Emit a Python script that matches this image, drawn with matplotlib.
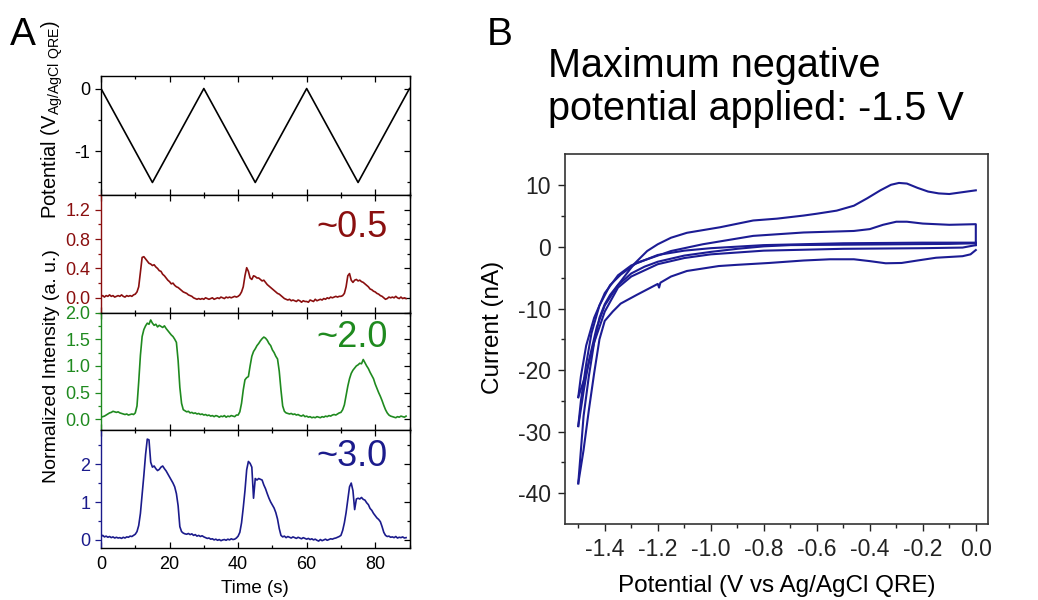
import numpy as np
import matplotlib
matplotlib.use("Agg")
import matplotlib.pyplot as plt
from matplotlib.ticker import MultipleLocator

plt.rcParams['font.family'] = ['Liberation Sans', 'DejaVu Sans']
plt.rcParams['mathtext.default'] = 'regular'
plt.rcParams['axes.unicode_minus'] = False

# ---------------- data: panel A ----------------
time_step = 0.5
pot_times = [0, 15, 30, 45, 60, 75, 90]
pot_values = [0, -1.5, 0, -1.5, 0, -1.5, 0]

int_red = [
    0.02, 0.03, 0.01, 0.03, 0.02, 0.04, 0.02, 0.03, 0.01, 0.02,
    0.03, 0.02, 0.04, 0.02, 0.01, 0.03, 0.02, 0.03, 0.02, 0.04,
    0.05, 0.08, 0.15, 0.35, 0.55, 0.56, 0.53, 0.50, 0.47, 0.46,
    0.44, 0.45, 0.42, 0.40, 0.37, 0.36, 0.32, 0.30, 0.27, 0.24,
    0.22, 0.19, 0.20, 0.17, 0.15, 0.14, 0.12, 0.10, 0.08, 0.07,
    0.06, 0.04, 0.03, 0.02, 0.00, -0.01, -0.02, -0.01, -0.02, -0.01,
    -0.02, 0.00, -0.01, -0.02, -0.01, 0.00, -0.02, -0.01, 0.00, -0.01,
    0.01, 0.00, -0.01, 0.01, 0.00, 0.01, 0.00, 0.01, 0.02, 0.01,
    0.02, 0.04, 0.08, 0.15, 0.30, 0.41, 0.36, 0.27, 0.25, 0.30,
    0.29, 0.27, 0.27, 0.25, 0.23, 0.24, 0.21, 0.18, 0.16, 0.14,
    0.12, 0.10, 0.08, 0.06, 0.05, 0.03, 0.01, -0.01, -0.02, -0.03,
    -0.02, -0.04, -0.03, -0.04, -0.05, -0.03, -0.04, -0.06, -0.04, -0.05,
    -0.05, -0.06, -0.03, -0.04, -0.05, -0.02, -0.04, -0.03, -0.02, -0.03,
    -0.01, -0.02, 0.00, -0.01, 0.01, 0.00, 0.01, 0.02, 0.01, 0.02,
    0.02, 0.03, 0.06, 0.15, 0.30, 0.33, 0.24, 0.21, 0.24, 0.25,
    0.23, 0.24, 0.22, 0.21, 0.19, 0.17, 0.15, 0.12, 0.11, 0.09,
    0.08, 0.06, 0.05, 0.03, 0.02, 0.00, -0.02, -0.01, 0.01, 0.00,
    0.01, 0.00, 0.02, 0.00, -0.01, 0.01, -0.01, 0.00, -0.01,
]

int_green = [
    0.04, 0.05, 0.06, 0.08, 0.10, 0.12, 0.13, 0.15, 0.14, 0.13,
    0.14, 0.12, 0.11, 0.10, 0.09, 0.10, 0.08, 0.09, 0.10, 0.09,
    0.12, 0.25, 0.70, 1.20, 1.55, 1.68, 1.75, 1.80, 1.78, 1.86,
    1.80, 1.76, 1.78, 1.73, 1.76, 1.74, 1.72, 1.75, 1.70, 1.66,
    1.62, 1.58, 1.55, 1.50, 1.44, 1.10, 0.60, 0.30, 0.18, 0.16,
    0.14, 0.15, 0.12, 0.13, 0.11, 0.12, 0.10, 0.11, 0.09, 0.10,
    0.08, 0.09, 0.07, 0.08, 0.06, 0.07, 0.05, 0.07, 0.06, 0.04,
    0.06, 0.05, 0.07, 0.04, 0.06, 0.05, 0.07, 0.06, 0.05, 0.08,
    0.08, 0.14, 0.30, 0.55, 0.74, 0.78, 0.80, 1.00, 1.18, 1.27,
    1.32, 1.38, 1.42, 1.47, 1.51, 1.54, 1.52, 1.48, 1.42, 1.38,
    1.30, 1.25, 1.18, 1.13, 0.90, 0.55, 0.25, 0.15, 0.12, 0.11,
    0.10, 0.11, 0.09, 0.10, 0.08, 0.09, 0.07, 0.06, 0.08, 0.05,
    0.06, 0.04, 0.05, 0.03, 0.04, 0.03, 0.05, 0.04, 0.03, 0.05,
    0.04, 0.06, 0.05, 0.07, 0.06, 0.08, 0.09, 0.08, 0.10, 0.12,
    0.13, 0.18, 0.27, 0.45, 0.62, 0.76, 0.86, 0.92, 0.96, 1.00,
    1.02, 1.05, 1.04, 1.12, 1.06, 1.00, 0.95, 0.88, 0.82, 0.76,
    0.66, 0.58, 0.50, 0.43, 0.35, 0.26, 0.18, 0.12, 0.08, 0.06,
    0.05, 0.04, 0.03, 0.05, 0.04, 0.06, 0.05, 0.04, 0.06,
]

int_blue = [
    0.09, 0.12, 0.08, 0.10, 0.07, 0.09, 0.06, 0.08, 0.05, 0.07,
    0.05, 0.06, 0.04, 0.07, 0.05, 0.08, 0.07, 0.10, 0.09, 0.12,
    0.15, 0.22, 0.38, 0.70, 1.20, 1.70, 2.25, 2.66, 2.64, 2.05,
    1.92, 1.95, 1.88, 1.83, 1.86, 1.92, 1.95, 1.88, 1.82, 1.74,
    1.66, 1.58, 1.50, 1.40, 1.22, 0.90, 0.35, 0.22, 0.18, 0.16,
    0.15, 0.17, 0.14, 0.16, 0.12, 0.14, 0.10, 0.12, 0.09, 0.11,
    0.08, 0.06, 0.04, 0.05, 0.02, 0.03, 0.00, 0.02, -0.01, 0.01,
    -0.02, 0.00, 0.01, -0.01, 0.02, 0.00, 0.03, 0.01, 0.02, 0.05,
    0.10, 0.20, 0.45, 0.85, 1.30, 1.85, 2.07, 2.02, 1.92, 1.10,
    1.62, 1.58, 1.62, 1.60, 1.58, 1.45, 1.35, 1.22, 1.10, 1.00,
    0.92, 0.84, 0.72, 0.55, 0.30, 0.12, 0.08, 0.10, 0.06, 0.09,
    0.07, 0.05, 0.08, 0.06, 0.04, 0.07, 0.05, 0.03, 0.06, 0.04,
    0.02, 0.04, 0.01, 0.03, 0.00, 0.02, -0.01, -0.03, 0.01, -0.02,
    0.00, 0.02, -0.01, 0.01, 0.03, 0.02, 0.04, 0.05, 0.07, 0.09,
    0.12, 0.25, 0.45, 0.72, 1.05, 1.40, 1.50, 1.30, 0.80, 1.08,
    1.10, 1.08, 1.12, 1.07, 1.05, 0.98, 0.93, 0.83, 0.78, 0.70,
    0.64, 0.58, 0.54, 0.48, 0.35, 0.20, 0.12, 0.09, 0.10, 0.07,
    0.08, 0.06, 0.09, 0.05, 0.07, 0.06, 0.08, 0.05, 0.06,
]

panel_labels = ["~0.5", "~2.0", "~3.0"]

# ---------------- data: panel B (CV sweeps) ----------------
f1_v = [0.0, -0.02, -0.05, -0.15, -0.22, -0.28, -0.34, -0.40, -0.46, -0.55, -0.65, -0.78, -0.90,
        -0.97, -1.09, -1.15, -1.19, -1.195, -1.20, -1.24, -1.28, -1.34, -1.37, -1.40, -1.42,
        -1.44, -1.46, -1.48, -1.50]
f1_i = [-0.5, -1.2, -1.5, -1.75, -2.2, -2.6, -2.65, -2.3, -2.0, -2.0, -2.2, -2.6, -2.9,
        -3.1, -3.9, -4.8, -5.8, -6.6, -6.0, -6.9, -7.8, -9.2, -10.5, -12.0, -15.0,
        -20.5, -26.5, -33.0, -38.4]

r1_v = [-1.50, -1.49, -1.48, -1.46, -1.44, -1.42, -1.40, -1.38, -1.34, -1.29, -1.24, -1.20, -1.15,
        -1.09, -0.965, -0.84, -0.75, -0.65, -0.60, -0.525, -0.46, -0.41, -0.36, -0.32, -0.29,
        -0.26, -0.22, -0.18, -0.14, -0.10, -0.05, 0.0]
r1_i = [-38.4, -33.0, -27.5, -21.0, -15.5, -11.5, -9.3, -7.8, -5.6, -2.8, -0.66, 0.44, 1.5,
        2.3, 3.2, 4.3, 4.6, 5.1, 5.4, 5.9, 6.7, 7.9, 9.2, 10.1, 10.4,
        10.3, 9.6, 9.0, 8.7, 8.6, 8.9, 9.2]

f2_v = [0.0, -0.1, -0.4, -0.7, -0.8, -0.9, -1.0, -1.1, -1.2, -1.25, -1.3, -1.35, -1.4, -1.43,
        -1.46, -1.48, -1.5]
f2_i = [0.6, 0.5, 0.4, 0.3, 0.1, -0.3, -0.8, -1.4, -2.4, -3.2, -4.3, -6.2, -9.5, -13.0,
        -18.5, -23.5, -29.1]

r2_v = [-1.5, -1.49, -1.47, -1.45, -1.42, -1.38, -1.34, -1.28, -1.15, -1.03, -0.84, -0.65,
        -0.46, -0.40, -0.35, -0.30, -0.26, -0.2, -0.1, 0.0, 0.0]
r2_i = [-29.1, -25.0, -19.0, -14.0, -9.5, -6.2, -4.5, -2.6, -0.66, 0.44, 1.8, 2.35,
        2.6, 2.9, 3.6, 4.1, 4.1, 3.8, 3.6, 3.7, 0.3]

f3_v = [0.0, -0.05, -0.2, -0.5, -0.8, -1.0, -1.1, -1.2, -1.3, -1.35, -1.4, -1.44, -1.47, -1.5]
f3_i = [0.3, -0.1, -0.2, -0.3, -0.6, -1.2, -1.8, -2.8, -4.8, -6.6, -10.5, -15.5, -20.5, -24.4]

r3_v = [-1.5, -1.49, -1.47, -1.44, -1.4, -1.35, -1.3, -1.2, -1.1, -1.0, -0.8, -0.5, -0.2, 0.0]
r3_i = [-24.4, -21.0, -16.0, -11.5, -7.5, -4.6, -3.0, -1.3, -0.6, -0.2, 0.3, 0.6, 0.7, 0.7]

# ---------------- styling ----------------
W, H = 1038, 600
fig = plt.figure(figsize=(W / 100, H / 100), dpi=100)

col_red = '#8a0f0f'
col_green = '#1f8a1f'
col_blue = '#1b1b8c'
col_cv = '#1c1c94'

def fr(x0, y0, x1, y1):
    return [x0 / W, 1 - y1 / H, (x1 - x0) / W, (y1 - y0) / H]

ax_pot = fig.add_axes(fr(101, 76, 409.5, 195))
ax_r = fig.add_axes(fr(101, 195, 409.5, 312.5))
ax_g = fig.add_axes(fr(101, 312.5, 409.5, 430))
ax_b = fig.add_axes(fr(101, 430, 409.5, 547.5))

t = np.arange(len(int_red)) * time_step

ax_pot.plot(pot_times, pot_values, color='black', lw=1.2)
ax_pot.set_ylim(-1.7, 0.2)
ax_pot.yaxis.set_major_locator(MultipleLocator(1))
ax_pot.yaxis.set_minor_locator(MultipleLocator(0.5))

traces = [(ax_r, int_red, col_red, (-0.2, 1.4), 0.4, 0.2, 0.96, '%.1f'),
          (ax_g, int_green, col_green, (-0.2, 2.0), 0.5, 0.25, 1.54, '%.1f'),
          (ax_b, int_blue, col_blue, (-0.2, 2.9), 1, 0.5, 2.2, '%d')]

for (ax, vals, col, yl, maj, mnr, ly, fmt), lab in zip(traces, panel_labels):
    ax.plot(t, vals, color=col, lw=1.2)
    ax.set_ylim(*yl)
    ax.yaxis.set_major_locator(MultipleLocator(maj))
    ax.yaxis.set_minor_locator(MultipleLocator(mnr))
    ax.yaxis.set_major_formatter(matplotlib.ticker.FormatStrFormatter(fmt))
    ax.tick_params(axis='y', which='both', colors=col)
    ax.spines['left'].set_color(col)
    ax.text(83.6, ly, lab, color=col, fontsize=26, ha='right', va='center')

for ax in [ax_pot, ax_r, ax_g, ax_b]:
    ax.set_xlim(0, 90)
    ax.xaxis.set_major_locator(MultipleLocator(20))
    ax.xaxis.set_minor_locator(MultipleLocator(10))
    ax.tick_params(axis='x', which='both', direction='in', top=True, bottom=True)
    ax.tick_params(axis='y', which='both', direction='out', left=True, right=False)
    ax.tick_params(which='major', length=4, width=0.9, labelsize=13)
    ax.tick_params(which='minor', length=2.5, width=0.9)
    ax.tick_params(axis='x', pad=6)
    ax2 = ax.secondary_yaxis('right')
    ax2.yaxis.set_major_locator(ax.yaxis.get_major_locator())
    ax2.yaxis.set_minor_locator(ax.yaxis.get_minor_locator())
    ax2.tick_params(which='both', direction='in', labelright=False)
    ax2.tick_params(which='major', length=4, width=0.9)
    ax2.tick_params(which='minor', length=2.5, width=0.9)
    for s in ax.spines.values():
        s.set_linewidth(1.0)
    if ax is not ax_b:
        ax.tick_params(axis='x', labelbottom=False)

ax_pot.tick_params(axis='y', colors='black')
ax_b.set_xlabel('Time (s)', fontsize=13.5, labelpad=5)
ax_b.set_xticks([0, 20, 40, 60, 80])

fig.text(52 / W, 1 - 120 / H, 'Potential (V$_{Ag/AgCl\\ QRE}$)', rotation=90,
         ha='center', va='center', fontsize=14.5)
fig.text(52 / W, 1 - 366 / H, 'Normalized Intensity (a. u.)', rotation=90,
         ha='center', va='center', fontsize=14)

fig.text(10 / W, 1 - 45 / H, 'A', fontsize=28, ha='left', va='baseline')
fig.text(487 / W, 1 - 45 / H, 'B', fontsize=28, ha='left', va='baseline')

# ---------------- panel B ----------------
axB = fig.add_axes(fr(565, 154, 988, 524))
for v, i in [(f1_v, f1_i), (r1_v, r1_i), (f2_v, f2_i), (r2_v, r2_i), (f3_v, f3_i), (r3_v, r3_i)]:
    axB.plot(v, i, color=col_cv, lw=1.5)
axB.set_xlim(-1.55, 0.046)
axB.set_ylim(-45, 15.1)
axB.xaxis.set_major_formatter(matplotlib.ticker.FormatStrFormatter('%.1f'))
axB.set_xticks([-1.4, -1.2, -1.0, -0.8, -0.6, -0.4, -0.2, 0.0])
axB.set_xticks([-1.5, -1.3, -1.1, -0.9, -0.7, -0.5, -0.3, -0.1], minor=True)
axB.set_yticks([10, 0, -10, -20, -30, -40])
axB.set_yticks([5, -5, -15, -25, -35], minor=True)
axB.tick_params(which='both', direction='out', labelsize=16.5, colors='#222222')
axB.tick_params(which='major', length=5, width=1.0, pad=5)
axB.tick_params(which='minor', length=3, width=1.0)
for s in axB.spines.values():
    s.set_color('#333333')
    s.set_linewidth(1.2)
axB.set_ylabel('Current (nA)', fontsize=17.5, labelpad=6)
axB.yaxis.set_label_coords(-0.145, 0.53)
axB.set_xlabel('Potential (V vs Ag/AgCl QRE)', fontsize=17.5, labelpad=10)

fig.text(548 / W, 1 - 77 / H, 'Maximum negative', fontsize=28.5, ha='left', va='baseline')
fig.text(548 / W, 1 - 120 / H, 'potential applied: -1.5 V', fontsize=28.5, ha='left', va='baseline')

fig.savefig('out.png', dpi=100)
